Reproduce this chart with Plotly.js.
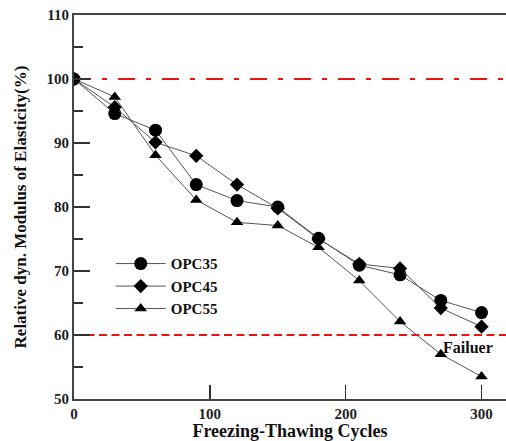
<!DOCTYPE html>
<html>
<head>
<meta charset="utf-8">
<script src="https://cdn.plot.ly/plotly-3.0.1.min.js"></script>
<style>html,body{margin:0;padding:0;background:#fff;}#chart{width:506px;height:441px;}</style>
</head>
<body>
<div id="chart"></div>
<script>
const cycles = [0, 30, 60, 90, 120, 150, 180, 210, 240, 270, 300];
const opc35 = [100, 94.6, 92.0, 83.5, 81.0, 80.0, 75.1, 70.9, 69.4, 65.4, 63.5];
const opc45 = [100, 95.6, 90.1, 88.0, 83.5, 79.8, 75.0, 71.1, 70.4, 64.2, 61.3];
const opc55 = [100, 97.2, 88.1, 81.1, 77.6, 77.1, 73.7, 68.5, 62.1, 57.0, 53.5];
const seriesNames = ['OPC35', 'OPC45', 'OPC55'];
const yTickVals = [50, 60, 70, 80, 90, 100, 110];
const xTickVals = [0, 100, 200, 300];
const refInitial = 100;
const refFailure = 60;
const failureLabel = 'Failuer';
const xTitle = 'Freezing-Thawing Cycles';
const yTitle = 'Relative dyn. Modulus of Elasticity(%)';

const serif = '"Liberation Serif", "Times New Roman", serif';
const lineStyle = {color: '#555', width: 1};
const traces = [
  {x: cycles, y: opc35, name: '<b>' + seriesNames[0] + '</b>', mode: 'lines+markers', line: lineStyle,
   marker: {symbol: 'circle', size: 13, color: '#000'}},
  {x: cycles, y: opc45, name: '<b>' + seriesNames[1] + '</b>', mode: 'lines+markers', line: lineStyle,
   marker: {symbol: 'diamond', size: 11, color: '#000'}},
  {x: cycles, y: opc55, name: '<b>' + seriesNames[2] + '</b>', mode: 'lines+markers', line: lineStyle,
   marker: {symbol: 'triangle-up', size: 11, color: '#000'}}
];

const axisFont = {family: serif, size: 15, color: '#222'};
const layout = {
  width: 506, height: 441,
  margin: {l: 74, r: 0, t: 15, b: 42},
  paper_bgcolor: '#fff', plot_bgcolor: '#fff',
  showlegend: true,
  legend: {x: 0.085, y: 0.395, xanchor: 'left', yanchor: 'top', bgcolor: 'rgba(0,0,0,0)', itemwidth: 50,
           font: {family: serif, size: 15, color: '#111'}, tracegroupgap: 0},
  xaxis: {range: [0, 318], showgrid: false, zeroline: false, showline: true, linecolor: '#444', linewidth: 2,
          mirror: true, ticks: 'inside', ticklen: 14, tickwidth: 1.5, tickcolor: '#333',
          tickmode: 'array', tickvals: xTickVals, ticktext: xTickVals.map(v => '<b>' + v + '</b>'),
          tickfont: axisFont,
          title: {text: '<b>' + xTitle + '</b>', font: {family: serif, size: 18, color: '#111'}, standoff: 6}},
  yaxis: {range: [50, 110], showgrid: false, zeroline: false, showline: true, linecolor: '#444', linewidth: 2,
          ticks: 'inside', ticklen: 16, tickwidth: 1.5, tickcolor: '#333',
          tickmode: 'array', tickvals: yTickVals, ticktext: yTickVals.map(v => '<b>' + v + '</b>'),
          minor: {ticks: 'inside', ticklen: 9, tickwidth: 1.5, tickcolor: '#333', dtick: 5},
          tickfont: axisFont,
          title: {text: '<b>' + yTitle + '</b>', font: {family: serif, size: 17, color: '#111'}, standoff: 16}},
  shapes: [
    {type: 'line', xref: 'paper', x0: 0, x1: 1, yref: 'y', y0: refInitial, y1: refInitial,
     line: {color: '#ee1111', width: 2, dash: '17px,11px,5px,11px'}, layer: 'below'},
    {type: 'line', xref: 'paper', x0: 0, x1: 1, yref: 'y', y0: refFailure, y1: refFailure,
     line: {color: '#ee1111', width: 2, dash: '8px,4.5px'}, layer: 'below'}
  ],
  annotations: [
    {x: 290, y: 58, xref: 'x', yref: 'y', text: '<b>' + failureLabel + '</b>', showarrow: false,
     font: {family: serif, size: 16, color: '#111'}}
  ]
};
Plotly.newPlot('chart', traces, layout, {displayModeBar: false, staticPlot: true});
</script>
</body>
</html>
